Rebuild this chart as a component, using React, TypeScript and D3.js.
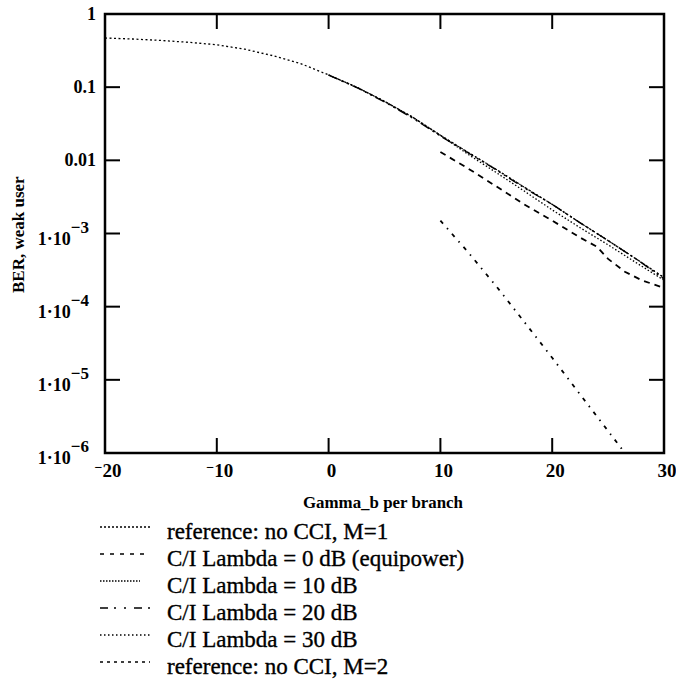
import React from "react";
import * as d3 from "d3";

// Gamma_b per branch (dB)
const gammaFull = [-20, -17.5, -15, -12.5, -10, -7.5, -5, -2.5, 0, 2.5, 5, 7.5, 10, 12.5, 15, 17.5, 20, 22.5, 25, 27.5, 30];
const gammaCi = [0, 2.5, 5, 7.5, 10, 12.5, 15, 17.5, 20, 22.5, 25, 27.5, 30];

// BER readings, weak user
const refM1 = [0.47, 0.455, 0.435, 0.41, 0.38, 0.33, 0.27, 0.21, 0.147, 0.1, 0.064, 0.039, 0.022, 0.0128, 0.0075, 0.0043, 0.0025, 0.0014, 0.0008, 0.00045, 0.00025];
const ci10 = [0.147, 0.1, 0.064, 0.039, 0.022, 0.012, 0.0068, 0.0038, 0.0021, 0.0012, 0.0007, 0.0004, 0.00023];
const ci20 = [0.146, 0.099, 0.063, 0.038, 0.0215, 0.0126, 0.0074, 0.0042, 0.0025, 0.0014, 0.0008, 0.00045, 0.00024];
const ci30 = [0.147, 0.1, 0.064, 0.039, 0.022, 0.0128, 0.0075, 0.0043, 0.0025, 0.0014, 0.0008, 0.00045, 0.00025];

const gammaCi0 = [10, 12.5, 15, 17.5, 20, 22.5, 24, 25, 26.5, 28, 30];
const ci0 = [0.013, 0.0077, 0.0044, 0.0025, 0.0015, 0.00088, 0.00066, 0.00045, 0.0003, 0.00023, 0.00018];

const gammaM2 = [10, 12.5, 15, 17.5, 20, 22.5, 25, 26.5];
const refM2 = [0.0015, 0.00055, 0.00019, 0.000062, 0.00002, 0.0000063, 0.000002, 0.000001];

const xTicks = [-20, -10, 0, 10, 20, 30];
const yTicks = [1, 0.1, 0.01, 1e-3, 1e-4, 1e-5, 1e-6];

const legendLabels = [
  "reference: no CCI, M=1",
  "C/I Lambda = 0 dB (equipower)",
  "C/I Lambda = 10 dB",
  "C/I Lambda = 20 dB",
  "C/I Lambda = 30 dB",
  "reference: no CCI, M=2",
];

const serif = "'Liberation Serif', 'Times New Roman', serif";

export default function App() {
  const width = 676;
  const height = 682;
  const plot = { left: 105, right: 664, top: 14, bottom: 453 };

  const x = d3.scaleLinear().domain([-20, 30]).range([plot.left, plot.right]);
  const y = d3.scaleLog().domain([1e-6, 1]).range([plot.bottom, plot.top]);

  const line = d3
    .line<[number, number]>()
    .x((d) => x(d[0]))
    .y((d) => y(d[1]));

  const zip = (g: number[], v: number[]) => g.map((gg, i) => [gg, v[i]] as [number, number]);

  const series = [
    { pts: zip(gammaFull, refM1), dash: "2,2.5", w: 1.3 },
    { pts: zip(gammaCi0, ci0), dash: "6,5", w: 1.8 },
    { pts: zip(gammaCi, ci10), dash: "1.5,2", w: 1.3 },
    { pts: zip(gammaCi, ci20), dash: "10,4,2,4,2,4", w: 1.4 },
    { pts: zip(gammaCi, ci30), dash: "1.5,2.5", w: 1.2 },
    { pts: zip(gammaM2, refM2), dash: "4,6,1.5,6", w: 1.8 },
  ];
  const legendDash = ["2,2", "4,6", "1.5,1.5", "8,6,2,8,2,8", "1.5,2.5", "3,4"];
  const legendLen = [50, 50, 40, 50, 50, 50];

  const tickLen = 15;

  return (
    <svg
      width={width}
      height={height}
      style={{ position: "absolute", left: 0, top: 0, background: "#fff" }}
      fontFamily={serif}
    >
      <defs>
        <clipPath id="plotClip">
          <rect x={plot.left} y={plot.top} width={plot.right - plot.left} height={plot.bottom - plot.top} />
        </clipPath>
      </defs>

      {/* curves */}
      <g clipPath="url(#plotClip)" fill="none" stroke="#000">
        {series.map((s, i) => (
          <path key={i} d={line(s.pts) || ""} strokeDasharray={s.dash} strokeWidth={s.w} />
        ))}
      </g>

      {/* frame */}
      <rect
        x={plot.left}
        y={plot.top}
        width={plot.right - plot.left}
        height={plot.bottom - plot.top}
        fill="none"
        stroke="#000"
        strokeWidth={2.5}
      />

      {/* x ticks, inside on top and bottom */}
      {xTicks.slice(1, -1).map((t) => (
        <g key={t} stroke="#000" strokeWidth={2}>
          <line x1={x(t)} x2={x(t)} y1={plot.bottom} y2={plot.bottom - tickLen} />
          <line x1={x(t)} x2={x(t)} y1={plot.top} y2={plot.top + tickLen} />
        </g>
      ))}
      {/* y ticks, inside on left and right */}
      {yTicks.slice(1, -1).map((t) => (
        <g key={t} stroke="#000" strokeWidth={2}>
          <line x1={plot.left} x2={plot.left + tickLen} y1={y(t)} y2={y(t)} />
          <line x1={plot.right} x2={plot.right - tickLen} y1={y(t)} y2={y(t)} />
        </g>
      ))}

      {/* x tick labels */}
      {xTicks.map((t) => (
        <text
          key={t}
          x={x(t) + 3}
          y={plot.bottom + 24}
          textAnchor="middle"
          fontSize={19}
          fontWeight="bold"
        >
          {t < 0 ? (
            <>
              <tspan fontSize={14} dy={-5}>−</tspan>
              <tspan dy={5}>{Math.abs(t)}</tspan>
            </>
          ) : (
            String(t)
          )}
        </text>
      ))}

      {/* y tick labels */}
      {yTicks.map((t) => {
        const exp = Math.round(Math.log10(t));
        if (exp >= -2) {
          return (
            <text key={t} x={96} y={y(t) + 6} textAnchor="end" fontSize={18} fontWeight="bold">
              {exp === 0 ? "1" : exp === -1 ? "0.1" : "0.01"}
            </text>
          );
        }
        return (
          <text key={t} x={89} y={y(t) + 11} textAnchor="end" fontSize={18} fontWeight="bold">
            1·10
            <tspan dy={-12} fontSize={17}>{"−" + Math.abs(exp)}</tspan>
          </text>
        );
      })}

      {/* axis titles */}
      <text transform="translate(24,293) rotate(-90)" fontSize={17} fontWeight="bold">
        BER, weak user
      </text>
      <text
        x={383}
        y={508}
        textAnchor="middle"
        fontSize={16}
        fontWeight="bold"
        textLength={160}
        lengthAdjust="spacingAndGlyphs"
      >
        Gamma_b per branch
      </text>

      {/* legend */}
      {legendLabels.map((lab, i) => {
        const cy = 531 + i * 27;
        return (
          <g key={lab}>
            <line
              x1={100}
              x2={100 + legendLen[i]}
              y1={cy - 4}
              y2={cy - 4}
              stroke="#000"
              strokeWidth={1.4}
              strokeDasharray={legendDash[i]}
            />
            <text x={167} y={cy + 8} fontSize={23} stroke="#000" strokeWidth={0.35}>
              {lab}
            </text>
          </g>
        );
      })}
    </svg>
  );
}
